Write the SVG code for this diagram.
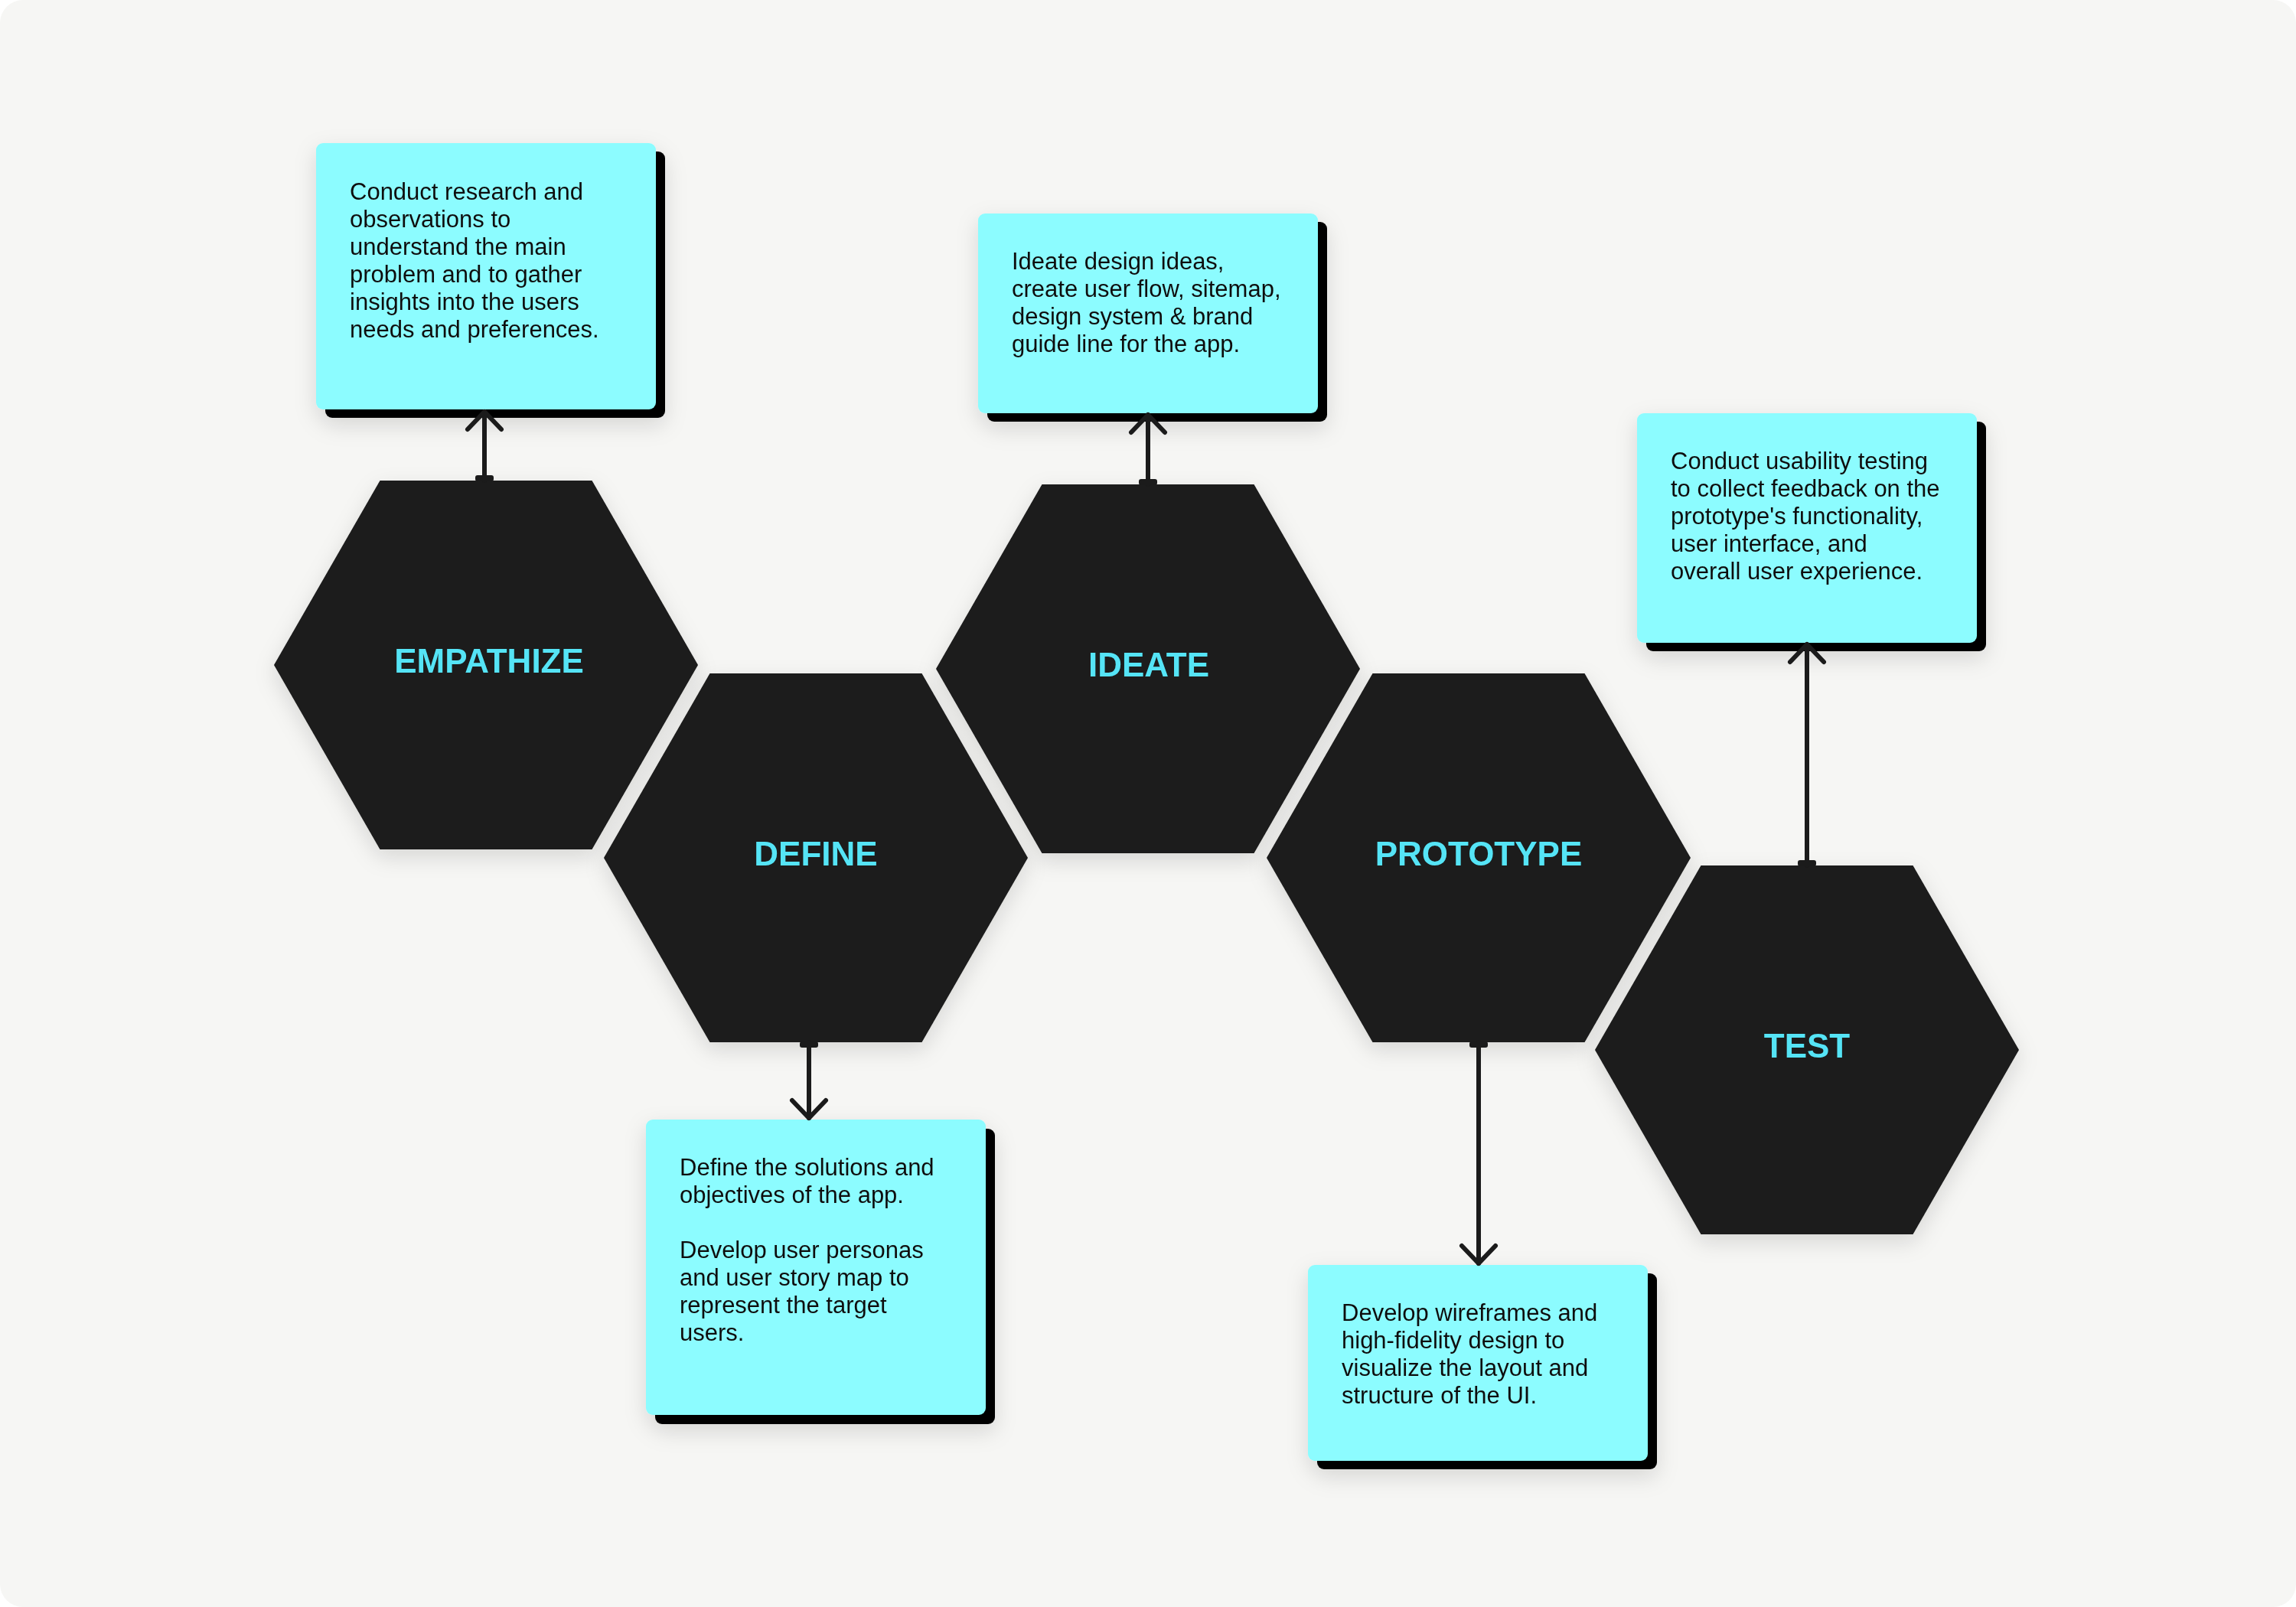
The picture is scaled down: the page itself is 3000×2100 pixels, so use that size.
<svg xmlns="http://www.w3.org/2000/svg" xmlns:xlink="http://www.w3.org/1999/xlink" width="3000" height="2100" viewBox="0 0 3000 2100">
  <style>
    .hex { fill: #1a1a1a; }
    .label { font-family: "Liberation Sans", Arial, sans-serif; font-weight: bold; font-size: 44px; fill: #55e4f6; text-anchor: middle; }
    .card { fill: #8cfcff; }
    .cardShadow { fill: #000000; }
    .body { font-family: "Liberation Sans", Arial, sans-serif; font-size: 31px; fill: #111111; }
    .conn { fill: none; stroke: #1b1b1b; stroke-width: 6; stroke-linecap: round; }
  </style>
  <defs>
    <filter id="soft" x="-20%" y="-20%" width="140%" height="150%">
      <feDropShadow dx="0" dy="10" stdDeviation="14" flood-color="#000000" flood-opacity="0.13"/>
    </filter>
    <polygon id="hexShape" points="-277,0 -138.5,-241 138.5,-241 277,0 138.5,241 -138.5,241"/>
    <marker id="arrow" markerUnits="userSpaceOnUse" viewBox="0 0 60 60" markerWidth="60" markerHeight="60" refX="30" refY="30" orient="auto">
      <path d="M7,8 L30,30 L7,52" fill="none" stroke="#1b1b1b" stroke-width="6" stroke-linecap="round" stroke-linejoin="round"/>
    </marker>
    <marker id="cap" markerUnits="userSpaceOnUse" viewBox="0 0 30 30" markerWidth="30" markerHeight="30" refX="15" refY="15" orient="auto">
      <rect x="14" y="3" width="8" height="24" rx="3" fill="#1b1b1b"/>
    </marker>
  </defs>

  <rect x="0" y="0" width="3000" height="2100" fill="#ffffff"/>
  <rect x="0" y="0" width="3000" height="2100" rx="30" fill="#f6f6f4"/>

  <!-- Hexagon nodes -->
  <g id="node-empathize" filter="url(#soft)">
    <use xlink:href="#hexShape" class="hex" x="635" y="869"/>
    <text class="label" x="639" y="879">EMPATHIZE</text>
  </g>
  <g id="node-define" filter="url(#soft)">
    <use xlink:href="#hexShape" class="hex" x="1066" y="1121"/>
    <text class="label" x="1066" y="1131">DEFINE</text>
  </g>
  <g id="node-ideate" filter="url(#soft)">
    <use xlink:href="#hexShape" class="hex" x="1500" y="874"/>
    <text class="label" x="1501" y="884">IDEATE</text>
  </g>
  <g id="node-prototype" filter="url(#soft)">
    <use xlink:href="#hexShape" class="hex" x="1932" y="1121"/>
    <text class="label" x="1932" y="1131">PROTOTYPE</text>
  </g>
  <g id="node-test" filter="url(#soft)">
    <use xlink:href="#hexShape" class="hex" x="2361" y="1372"/>
    <text class="label" x="2361" y="1382">TEST</text>
  </g>

  <!-- Description cards -->
  <g id="card-empathize" filter="url(#soft)">
    <rect class="cardShadow" x="425" y="198" width="444" height="348" rx="9"/>
    <rect class="card" x="413" y="187" width="444" height="348" rx="9"/>
    <text class="body" x="457" y="261">
      <tspan x="457" y="261">Conduct research and</tspan>
      <tspan x="457" y="297">observations to</tspan>
      <tspan x="457" y="333">understand the main</tspan>
      <tspan x="457" y="369">problem and to gather</tspan>
      <tspan x="457" y="405">insights into the users</tspan>
      <tspan x="457" y="441">needs and preferences.</tspan>
    </text>
  </g>
  <g id="card-ideate" filter="url(#soft)">
    <rect class="cardShadow" x="1290" y="290" width="444" height="261" rx="9"/>
    <rect class="card" x="1278" y="279" width="444" height="261" rx="9"/>
    <text class="body" x="1322" y="352">
      <tspan x="1322" y="352">Ideate design ideas,</tspan>
      <tspan x="1322" y="388">create user flow, sitemap,</tspan>
      <tspan x="1322" y="424">design system &amp; brand</tspan>
      <tspan x="1322" y="460">guide line for the app.</tspan>
    </text>
  </g>
  <g id="card-test" filter="url(#soft)">
    <rect class="cardShadow" x="2151" y="551" width="444" height="300" rx="9"/>
    <rect class="card" x="2139" y="540" width="444" height="300" rx="9"/>
    <text class="body" x="2183" y="613">
      <tspan x="2183" y="613">Conduct usability testing</tspan>
      <tspan x="2183" y="649">to collect feedback on the</tspan>
      <tspan x="2183" y="685">prototype's functionality,</tspan>
      <tspan x="2183" y="721">user interface, and</tspan>
      <tspan x="2183" y="757">overall user experience.</tspan>
    </text>
  </g>
  <g id="card-define" filter="url(#soft)">
    <rect class="cardShadow" x="856" y="1475" width="444" height="386" rx="9"/>
    <rect class="card" x="844" y="1463" width="444" height="386" rx="9"/>
    <text class="body" x="888" y="1536">
      <tspan x="888" y="1536">Define the solutions and</tspan>
      <tspan x="888" y="1572">objectives of the app.</tspan>
      <tspan x="888" y="1644">Develop user personas</tspan>
      <tspan x="888" y="1680">and user story map to</tspan>
      <tspan x="888" y="1716">represent the target</tspan>
      <tspan x="888" y="1752">users.</tspan>
    </text>
  </g>
  <g id="card-prototype" filter="url(#soft)">
    <rect class="cardShadow" x="1721" y="1664" width="444" height="256" rx="9"/>
    <rect class="card" x="1709" y="1653" width="444" height="256" rx="9"/>
    <text class="body" x="1753" y="1726">
      <tspan x="1753" y="1726">Develop wireframes and</tspan>
      <tspan x="1753" y="1762">high-fidelity design to</tspan>
      <tspan x="1753" y="1798">visualize the layout and</tspan>
      <tspan x="1753" y="1834">structure of the UI.</tspan>
    </text>
  </g>

  <!-- Connectors -->
  <g id="connectors">
    <path class="conn" d="M633,628 L633,538" marker-start="url(#cap)" marker-end="url(#arrow)"/>
    <path class="conn" d="M1500,633 L1500,542" marker-start="url(#cap)" marker-end="url(#arrow)"/>
    <path class="conn" d="M2361,1131 L2361,842" marker-start="url(#cap)" marker-end="url(#arrow)"/>
    <path class="conn" d="M1057,1362 L1057,1461" marker-start="url(#cap)" marker-end="url(#arrow)"/>
    <path class="conn" d="M1932,1362 L1932,1651" marker-start="url(#cap)" marker-end="url(#arrow)"/>
  </g>
</svg>
